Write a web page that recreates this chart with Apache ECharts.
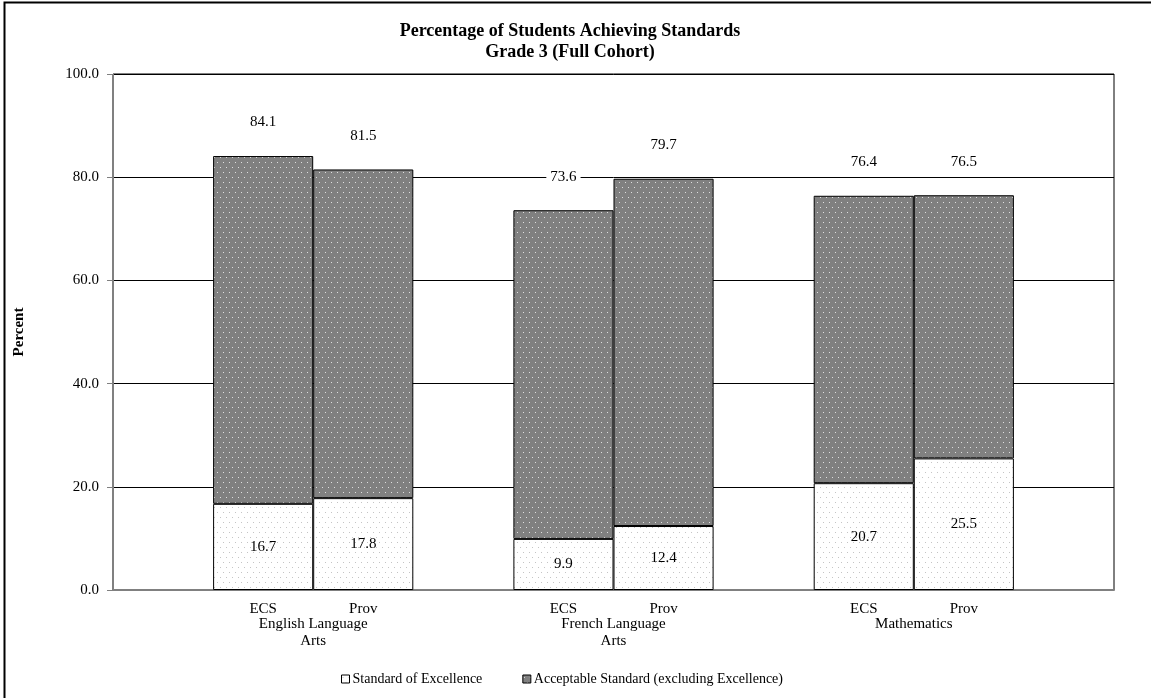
<!DOCTYPE html>
<html>
<head>
<meta charset="utf-8">
<script src="https://cdn.jsdelivr.net/npm/echarts@6/dist/echarts.min.js"></script>
<style>html,body{margin:0;padding:0;background:#fff}#c{width:1151px;height:698px}</style>
</head>
<body>
<div id="c"></div>
<script>
// ---- data ----
var groups = ["English Language\nArts", "French Language\nArts", "Mathematics"];
var subs = ["ECS", "Prov"];
var excellence = [16.7, 17.8, 9.9, 12.4, 20.7, 25.5];
var totals = [84.1, 81.5, 73.6, 79.7, 76.4, 76.5];
var yTicks = [0, 20, 40, 60, 80, 100];
var seriesNames = ["Standard of Excellence", "Acceptable Standard (excluding Excellence)"];

// ---- build slots: blank, ECS, Prov, blank, ... blank ----
var cats = [], exData = [], accData = [], totData = [];
var k = 0;
for (var g = 0; g < groups.length; g++) {
  cats.push(" " + g); exData.push(null); accData.push(null); totData.push(null);
  for (var s = 0; s < subs.length; s++) {
    cats.push(subs[s] + "_" + g);
    exData.push(excellence[k]);
    accData.push(+(totals[k] - excellence[k]).toFixed(1));
    totData.push(totals[k]);
    k++;
  }
}
cats.push(" end"); exData.push(null); accData.push(null); totData.push(null);

// group label axis (boundaryGap false, 11 positions, labels at 2,5,8)
var groupCats = [];
for (var i = 0; i <= cats.length; i++) groupCats.push("");
for (var g2 = 0; g2 < groups.length; g2++) groupCats[2 + 3 * g2] = groups[g2];

function makePattern(bg, dot) {
  var c = document.createElement('canvas');
  c.width = 6; c.height = 10;
  var ctx = c.getContext('2d');
  ctx.fillStyle = bg; ctx.fillRect(0, 0, 6, 10);
  ctx.fillStyle = dot;
  ctx.fillRect(1, 2, 1, 1);
  ctx.fillRect(4, 7, 1, 1);
  return c;
}
var lightPat = makePattern('#ffffff', '#c4c4c4');
var darkPat = makePattern('#808080', '#e0e0e0');

var FONT = '"Liberation Serif", "Times New Roman", serif';

var chart = echarts.init(document.getElementById('c'), null, {renderer: 'canvas'});
chart.setOption({
  animation: false,
  backgroundColor: '#fff',
  textStyle: {fontFamily: FONT, color: '#000'},
  title: {
    text: 'Percentage of Students Achieving Standards\nGrade 3 (Full Cohort)',
    left: 565, top: 16, textAlign: 'center',
    textStyle: {fontFamily: FONT, fontSize: 18, fontWeight: 'bold', color: '#000', lineHeight: 21}
  },
  graphic: [{
    type: 'rect', shape: {x: 4.5, y: 2.5, width: 1200, height: 760},
    style: {fill: 'none', stroke: '#000', lineWidth: 2}, silent: true
  }],
  legend: {
    left: 336, top: 667,
    icon: 'rect', itemWidth: 8, itemHeight: 8, itemGap: 40,
    textStyle: {fontFamily: FONT, fontSize: 14, color: '#000', padding: [0, 0, 0, -2]},
    itemStyle: {borderColor: '#000', borderWidth: 1},
    data: seriesNames
  },
  grid: {left: 113, right: 37, top: 74, bottom: 108, show: true, borderColor: '#000', borderWidth: 1, backgroundColor: 'transparent'},
  xAxis: [{
    type: 'category', data: cats,
    axisLine: {lineStyle: {color: '#808080', width: 2}},
    axisTick: {show: false},
    axisLabel: {
      interval: 0, margin: 12, fontFamily: FONT, fontSize: 15, color: '#000',
      formatter: function (v) { return v.charAt(0) === ' ' ? '' : v.split('_')[0]; }
    },
    splitLine: {show: false}
  }, {
    type: 'category', data: groupCats, boundaryGap: false, position: 'bottom', offset: 19,
    axisLine: {show: false}, axisTick: {show: false}, splitLine: {show: false},
    axisLabel: {interval: 0, margin: 7, fontFamily: FONT, fontSize: 15, color: '#000', lineHeight: 17}
  }],
  yAxis: {
    type: 'value', min: 0, max: 100, interval: 20,
    name: 'Percent', nameLocation: 'middle', nameGap: 86, nameRotate: 90,
    nameTextStyle: {fontFamily: FONT, fontSize: 15, fontWeight: 'bold', color: '#000'},
    axisLine: {show: true, lineStyle: {color: '#808080', width: 1}},
    axisTick: {show: true, length: 6, lineStyle: {color: '#808080'}},
    axisLabel: {
      margin: 14, fontFamily: FONT, fontSize: 15, color: '#000',
      formatter: function (v) { return yTicks.indexOf(v) >= 0 ? v.toFixed(1) : ''; }
    },
    splitLine: {show: true, lineStyle: {color: '#000', width: 1}}
  },
  series: [{
    name: seriesNames[0], type: 'bar', stack: 'a', data: exData,
    barWidth: '100%', barCategoryGap: 0,
    itemStyle: {color: {image: lightPat, repeat: 'repeat'}, borderColor: '#000', borderWidth: 1},
    label: {
      show: true, position: 'inside', fontFamily: FONT, fontSize: 15, color: '#000',
      formatter: function (p) { return p.value == null ? '' : p.value.toFixed(1); }
    }
  }, {
    name: seriesNames[1], type: 'bar', stack: 'a', data: accData,
    barWidth: '100%', barCategoryGap: 0,
    itemStyle: {color: {image: darkPat, repeat: 'repeat'}, borderColor: '#000', borderWidth: 1},
    label: {
      show: true, position: 'top', distance: 26, fontFamily: FONT, fontSize: 15, color: '#000',
      backgroundColor: '#fff', padding: [0, 4],
      formatter: function (p) { var t = totData[p.dataIndex]; return t == null ? '' : t.toFixed(1); }
    }
  }]
});
</script>
</body>
</html>
